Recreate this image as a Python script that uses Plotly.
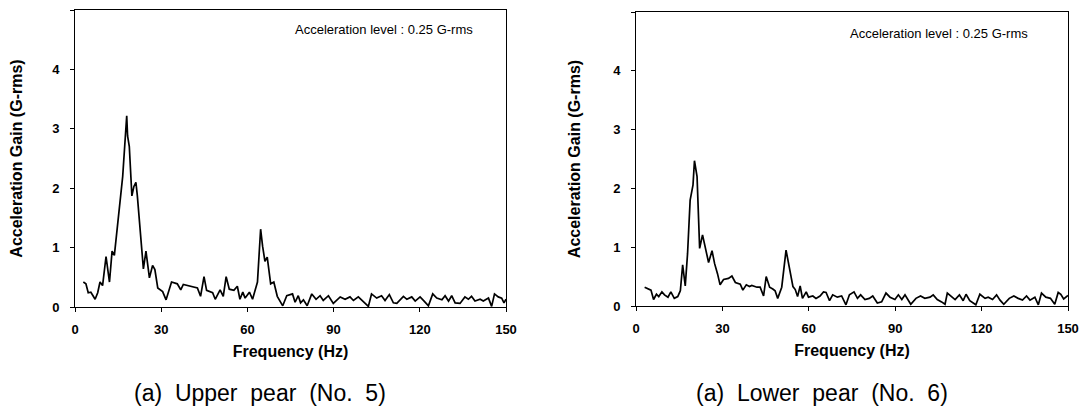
import plotly.graph_objects as go

# Upper pear (No. 5)
freq_upper = [2.9, 3.8, 4.6, 5.5, 6.0, 7.0, 7.9, 8.7, 9.6, 10.8, 12.0, 12.9, 13.7, 14.5, 15.7, 16.6,
              18.0, 18.3, 18.9, 19.8, 20.5, 21.2, 21.7, 22.6, 23.8, 24.7, 25.3, 25.9, 27.0, 27.8,
              28.8, 30.5, 31.7, 33.6, 35.6, 36.8, 37.7, 39.4, 41.8, 42.6, 43.7, 44.9, 45.8, 47.9,
              48.8, 50.5, 51.6, 52.6, 53.7, 55.3, 56.5, 57.4, 58.4, 59.2, 60.7, 61.8, 63.5, 64.6,
              65.3, 66.1, 66.9, 68.1, 69.2, 70.4, 72.3, 73.7, 75.7, 76.6, 77.7, 78.5, 79.5, 80.8,
              82.4, 83.9, 85.3, 86.4, 88.2, 89.9, 92.3, 94.0, 95.7, 96.9, 98.6, 100.3, 102.1, 103.2,
              105.0, 106.7, 107.9, 109.4, 110.8, 112.0, 114.3, 115.5, 117.2, 118.4, 120.1, 121.5,
              123.0, 124.5, 125.9, 127.7, 128.8, 130.0, 131.1, 132.3, 134.0, 135.7, 136.9, 138.0,
              139.2, 141.0, 142.1, 143.9, 145.0, 146.0, 147.3, 148.5, 149.3, 150.0]
gain_upper = [0.42, 0.39, 0.24, 0.25, 0.21, 0.13, 0.24, 0.42, 0.36, 0.85, 0.42, 0.94, 0.87, 1.25, 1.87, 2.2,
              3.22, 2.88, 2.7, 1.87, 2.03, 2.1, 1.87, 1.36, 0.64, 0.94, 0.74, 0.49, 0.7, 0.63,
              0.32, 0.26, 0.12, 0.42, 0.39, 0.29, 0.38, 0.36, 0.32, 0.32, 0.18, 0.51, 0.28, 0.24,
              0.13, 0.29, 0.18, 0.51, 0.3, 0.28, 0.35, 0.13, 0.25, 0.15, 0.25, 0.13, 0.42, 1.31,
              1.02, 0.77, 0.84, 0.39, 0.42, 0.18, 0.02, 0.19, 0.22, 0.08, 0.19, 0.07, 0.12, 0.02,
              0.22, 0.13, 0.19, 0.11, 0.19, 0.06, 0.17, 0.13, 0.17, 0.11, 0.17, 0.1, 0.01, 0.22,
              0.15, 0.19, 0.11, 0.21, 0.07, 0.06, 0.18, 0.13, 0.17, 0.1, 0.17, 0.1,
              0.02, 0.22, 0.15, 0.12, 0.19, 0.1, 0.19, 0.07, 0.06, 0.17, 0.13, 0.18,
              0.1, 0.13, 0.1, 0.15, 0.01, 0.22, 0.17, 0.15, 0.07, 0.13]

# Lower pear (No. 6)
freq_lower = [3.0, 4.2, 5.2, 6.1, 7.1, 7.9, 9.0, 9.9, 11.1, 12.1, 13.3, 14.5, 15.4, 16.2, 17.1, 17.9,
              18.8, 19.8, 20.3, 21.2, 22.1, 23.1, 24.0, 25.2, 26.4, 27.3, 28.3, 29.2, 30.4, 32.1,
              33.3, 34.5, 36.2, 37.1, 38.3, 39.4, 40.2, 42.0, 43.1, 44.3, 45.2, 46.4, 47.5, 48.3,
              49.2, 50.6, 52.1, 53.3, 54.5, 55.3, 56.1, 57.0, 57.8, 59.1, 59.9, 61.4, 62.5, 63.9,
              65.1, 66.0, 67.2, 68.3, 69.9, 71.4, 72.9, 74.1, 75.7, 76.9, 78.0, 79.5, 81.0, 82.2,
              83.8, 85.3, 86.8, 88.2, 89.9, 91.1, 92.3, 93.4, 95.4, 97.2, 98.8, 100.3, 102.1, 103.2,
              104.6, 106.1, 107.3, 108.1, 109.6, 110.8, 112.3, 113.6, 114.6, 115.9, 118.0, 119.4,
              121.2, 122.3, 123.8, 125.2, 126.4, 127.7, 129.6, 131.2, 132.7, 134.2, 135.6, 136.8,
              138.5, 139.7, 140.8, 142.3, 143.9, 145.4, 146.6, 147.5, 148.5, 150.0]
gain_lower = [0.32, 0.29, 0.27, 0.11, 0.2, 0.16, 0.24, 0.19, 0.15, 0.24, 0.13, 0.16, 0.26, 0.7, 0.34, 0.89,
              1.8, 2.06, 2.47, 2.2, 0.98, 1.21, 1.01, 0.74, 0.94, 0.72, 0.55, 0.36, 0.45, 0.47,
              0.51, 0.4, 0.37, 0.27, 0.36, 0.33, 0.35, 0.32, 0.32, 0.17, 0.5, 0.32, 0.29, 0.26,
              0.13, 0.32, 0.95, 0.67, 0.33, 0.28, 0.16, 0.34, 0.13, 0.24, 0.15, 0.17, 0.13, 0.17,
              0.24, 0.23, 0.09, 0.19, 0.15, 0.17, 0.02, 0.19, 0.24, 0.13, 0.19, 0.11, 0.13, 0.17,
              0.05, 0.07, 0.22, 0.15, 0.11, 0.19, 0.11, 0.19, 0.03, 0.13, 0.17, 0.13, 0.15, 0.19,
              0.11, 0.07, 0.03, 0.22, 0.15, 0.11, 0.19, 0.09, 0.2, 0.09, 0.02, 0.2,
              0.13, 0.15, 0.11, 0.19, 0.1, 0.03, 0.13, 0.17, 0.13, 0.1, 0.17, 0.1,
              0.15, 0.02, 0.22, 0.15, 0.13, 0.03, 0.23, 0.2, 0.12, 0.18]

x_ticks = [0, 30, 60, 90, 120, 150]
y_ticks = [0, 1, 2, 3, 4, 5]
y_title = "Acceleration Gain (G-rms)"
x_title = "Frequency (Hz)"
note_text = "Acceleration level : 0.25 G-rms"
captions = ["(a) Upper pear (No. 5)", "(a) Lower pear (No. 6)"]

FONT = "Liberation Sans, Arial, sans-serif"
# page body has an 8px margin: work in reference pixels and shift by OFF
OFF = 8
W, H = 1088 - OFF, 413 - OFF

def px_x(x):
    return (x - OFF) / W

def px_y(y):
    return 1 - (y - OFF) / H

fig = go.Figure()
fig.add_trace(go.Scatter(x=freq_upper, y=gain_upper, mode="lines",
                         line=dict(color="black", width=1.7), xaxis="x", yaxis="y",
                         showlegend=False))
fig.add_trace(go.Scatter(x=freq_lower, y=gain_lower, mode="lines",
                         line=dict(color="black", width=1.7), xaxis="x2", yaxis="y2",
                         showlegend=False))

xdom = [px_x(75), px_x(506)]
xdom2 = [px_x(636), px_x(1068)]
ydom = [px_y(307), px_y(10)]
ydom2 = [px_y(306), px_y(12)]

tickfont = dict(family=FONT, size=13, color="black", weight="bold")
titlefont = dict(family=FONT, size=16, color="black", weight="bold")

def xaxis(dom, anchor):
    return dict(domain=dom, anchor=anchor, range=[0, 150], tickvals=x_ticks,
                ticks="outside", ticklen=4, tickcolor="black", showline=True,
                linecolor="black", linewidth=1, mirror=True, showgrid=False,
                zeroline=False, tickfont=tickfont, automargin=False,
                ticklabelstandoff=6,
                title=dict(text=x_title, font=titlefont, standoff=10))

def yaxis(dom, anchor):
    return dict(domain=dom, anchor=anchor, range=[0, 5], tickvals=y_ticks,
                ticks="outside", ticklen=4, tickcolor="black", showline=True,
                linecolor="black", linewidth=1, mirror=True, showgrid=False,
                zeroline=False, tickfont=tickfont, automargin=False,
                ticklabelstandoff=8,
                title=dict(text=y_title, font=titlefont, standoff=28))

fig.update_layout(
    width=W, height=H,
    margin=dict(l=0, r=0, t=0, b=0),
    paper_bgcolor="white", plot_bgcolor="white",
    xaxis=xaxis(xdom, "y"), yaxis=yaxis(ydom, "x"),
    xaxis2=xaxis(xdom2, "y2"), yaxis2=yaxis(ydom2, "x2"),
    font=dict(family=FONT, color="black"),
)

for rx, cy in [(475, 29.5), (1030, 33)]:
    fig.add_annotation(text=note_text, xref="paper", yref="paper", x=px_x(rx), y=px_y(cy),
                       xanchor="right", yanchor="middle", showarrow=False,
                       font=dict(family=FONT, size=13, color="black"))

for cx, cap in zip([260, 822], captions):
    # the printed caption uses wide word spacing
    spaced = cap.replace(" ", "\u00a0 ")
    fig.add_annotation(text=spaced, xref="paper", yref="paper", x=px_x(cx), y=px_y(393),
                       xanchor="center", yanchor="middle", showarrow=False,
                       font=dict(family=FONT, size=23, color="black"))

fig.write_html("out.html")
